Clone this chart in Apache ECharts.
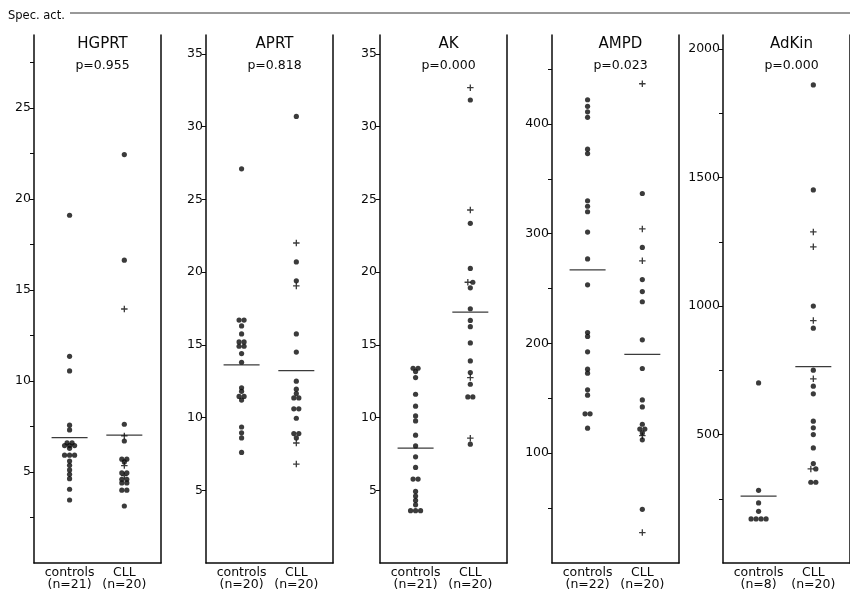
<!DOCTYPE html>
<html>
<head>
<meta charset="utf-8">
<script src="https://cdn.jsdelivr.net/npm/echarts@6/dist/echarts.min.js"></script>
<style>
  html, body { margin: 0; padding: 0; background: #fff; }
  #chart { width: 850px; height: 593px; }
</style>
</head>
<body>
<div id="chart"></div>
<script>
// Enzyme specific activities in controls and CLL, one panel per enzyme.
const enzymes = ['HGPRT', 'APRT', 'AK', 'AMPD', 'AdKin'];
const pValues = ['p=0.955', 'p=0.818', 'p=0.000', 'p=0.023', 'p=0.000'];
const groupNames = ['controls', 'CLL'];
const controlsN = [21, 20, 21, 22, 8];
const cllN = [20, 20, 20, 20, 20];

// y scale of each panel
const yMax = [29, 36.3, 36.3, 481, 2055];
const tickValues = [
  [2.5, 5, 7.5, 10, 12.5, 15, 17.5, 20, 22.5, 25, 27.5],
  [5, 10, 15, 20, 25, 30, 35],
  [5, 10, 15, 20, 25, 30, 35],
  [50, 100, 150, 200, 250, 300, 350, 400, 450],
  [250, 500, 750, 1000, 1250, 1500, 1750, 2000]
];
const labelValues = [
  [5, 10, 15, 20, 25],
  [5, 10, 15, 20, 25, 30, 35],
  [5, 10, 15, 20, 25, 30, 35],
  [100, 200, 300, 400],
  [500, 1000, 1500, 2000]
];

// individual values (equal values sit side by side)
const hgprtControlsDot = [19.1, 11.35, 10.55, 7.57, 7.31, 6.6, 6.6, 6.45, 6.45, 6.45, 6.3,
  5.92, 5.92, 5.92, 5.6, 5.37, 5.11, 4.87, 4.63, 4.05, 3.46];
const hgprtControlsPlus = [];
const hgprtCllDot = [22.43, 16.63, 7.62, 6.7, 5.7, 5.7, 5.55, 4.95, 4.95, 4.6, 4.6, 4.4, 4.4, 4.0, 4.0, 3.13];
const hgprtCllPlus = [13.95, 6.98, 5.35, 4.8];

const aprtControlsDot = [27.1, 16.7, 16.7, 16.3, 15.75, 15.2, 15.2, 14.9, 14.9, 14.4, 13.8,
  12.05, 11.8, 11.45, 11.45, 11.2, 9.35, 8.95, 8.6, 7.6];
const aprtControlsPlus = [];
const aprtCllDot = [30.7, 20.7, 19.4, 15.75, 14.5, 12.5, 11.95, 11.65, 11.35, 11.35, 10.6, 10.6,
  9.95, 8.9, 8.9, 8.6];
const aprtCllPlus = [22.0, 19.05, 8.25, 6.8];

const akControlsDot = [13.39, 13.39, 13.16, 12.75, 11.6, 10.78, 10.11, 9.77, 8.79, 8.05, 7.3, 6.57,
  5.77, 5.77, 4.92, 4.6, 4.3, 4.0, 3.6, 3.6, 3.6];
const akControlsPlus = [];
const akCllPlus = [32.68, 24.27, 19.3, 12.75, 8.58];
const akCllDot = [31.83, 23.35, 20.25, 19.3, 18.92, 17.48, 16.68, 16.25, 15.13, 13.89, 13.09,
  12.29, 11.42, 11.42, 8.17];

const ampdControlsDot = [422, 416, 411, 406, 377, 373, 330, 325, 320, 301.5, 277, 253.4,
  210, 206.4, 192.4, 176.6, 172.9, 157.8, 152.9, 135.9, 135.9, 122.8];
const ampdControlsPlus = [];
const ampdCllDot = [336.6, 287.5, 258.2, 247.3, 238, 203.3, 177.2, 148.6, 142.2,
  126.4, 122, 122, 118.5, 112.2, 48.9];
const ampdCllPlus = [436.6, 304.3, 275.3, 116, 27.7];

const adkinControlsDot = [701, 283, 234, 201, 171.4, 171.4, 171.4, 171.4];
const adkinControlsPlus = [];
const adkinCllDot = [1860.7, 1451.9, 1000, 913.8, 750.6, 688.3, 658.4, 551.9, 526, 500, 448, 387,
  366, 314.3, 314.3];
const adkinCllPlus = [1288.4, 1230.4, 943.5, 716.9, 366];

// group means
const controlsMean = [6.89, 13.62, 7.9, 267, 260];
const cllMean = [7.02, 13.23, 17.25, 190, 764];

const controlsDots = [hgprtControlsDot, aprtControlsDot, akControlsDot, ampdControlsDot, adkinControlsDot];
const controlsPlus = [hgprtControlsPlus, aprtControlsPlus, akControlsPlus, ampdControlsPlus, adkinControlsPlus];
const cllDots = [hgprtCllDot, aprtCllDot, akCllDot, ampdCllDot, adkinCllDot];
const cllPlus = [hgprtCllPlus, aprtCllPlus, akCllPlus, ampdCllPlus, adkinCllPlus];

// panel geometry
const panelLeft = [34, 206, 380, 552, 723];
const panelWidth = 127;
const gridTop = 35;
const gridHeight = 528;
const xMin = 0.35, xMax = 2.67;
const sideStep = 5 * (xMax - xMin) / panelWidth; // horizontal gap of coincident points

const ink = '#0a0a0a';
const fontFamily = '"DejaVu Sans", sans-serif';
const plusPath = 'path://M4,0h2v4h4v2h-4v4h-2v-4h-4v-2h4z';

// Place points at the group position; equal values are spread side by side.
function layoutGroup(center, dots, pluses) {
  const items = [];
  pluses.forEach(v => items.push({ v, kind: 'plus' }));
  dots.forEach(v => items.push({ v, kind: 'dot' }));
  const groups = new Map();
  items.forEach(it => {
    const key = it.v.toFixed(4);
    if (!groups.has(key)) groups.set(key, []);
    groups.get(key).push(it);
  });
  const dotOut = [], plusOut = [];
  groups.forEach(list => {
    const k = list.length;
    list.forEach((it, j) => {
      const x = center + (j - (k - 1) / 2) * sideStep;
      (it.kind === 'dot' ? dotOut : plusOut).push([x, it.v]);
    });
  });
  return { dotOut, plusOut };
}

const grids = [], xAxes = [], yAxes = [], series = [], titles = [];

titles.push({
  text: 'Spec. act.', left: 3, top: 5,
  textStyle: { fontFamily, fontSize: 11.5, fontWeight: 'normal', color: ink }
});

enzymes.forEach((name, i) => {
  grids.push({ left: panelLeft[i], top: gridTop, width: panelWidth, height: gridHeight });

  xAxes.push({
    type: 'value', gridIndex: i, min: xMin, max: xMax,
    axisLine: { show: true, onZero: false, lineStyle: { color: ink, width: 1.5 } },
    axisTick: { show: false },
    splitLine: { show: false },
    axisLabel: {
      customValues: [1, 2], margin: 4,
      fontFamily, fontSize: 12.5, lineHeight: 11.5, color: ink,
      formatter: v => v === 1 ? groupNames[0] + '\n(n=' + controlsN[i] + ')' : groupNames[1] + '\n(n=' + cllN[i] + ')'
    }
  });

  yAxes.push({
    type: 'value', gridIndex: i, min: 0, max: yMax[i], position: 'left',
    axisLine: { show: true, onZero: false, lineStyle: { color: ink, width: 1.5 } },
    axisTick: { show: true, customValues: tickValues[i], length: 4, lineStyle: { color: ink, width: 1 } },
    splitLine: { show: false },
    axisLabel: {
      customValues: labelValues[i], margin: 3,
      fontFamily, fontSize: 12.5, color: ink,
      formatter: v => String(v)
    }
  });
  // right border of the panel
  yAxes.push({
    type: 'value', gridIndex: i, min: 0, max: 1, position: 'right',
    axisLine: { show: true, onZero: false, lineStyle: { color: ink, width: 1.5 } },
    axisTick: { show: false }, axisLabel: { show: false }, splitLine: { show: false }
  });

  titles.push({
    text: name, subtext: pValues[i],
    left: panelLeft[i] + panelWidth / 2, top: 32, textAlign: 'center', itemGap: 7,
    textStyle: { fontFamily, fontSize: 15, fontWeight: 'normal', color: ink },
    subtextStyle: { fontFamily, fontSize: 12.5, color: ink }
  });

  const c = layoutGroup(1, controlsDots[i], controlsPlus[i]);
  const d = layoutGroup(2, cllDots[i], cllPlus[i]);

  series.push({
    type: 'scatter', xAxisIndex: i, yAxisIndex: 2 * i,
    symbol: 'circle', symbolSize: 5.2, silent: true,
    itemStyle: { color: ink },
    data: c.dotOut.concat(d.dotOut)
  });
  series.push({
    type: 'scatter', xAxisIndex: i, yAxisIndex: 2 * i,
    symbol: plusPath, symbolSize: 6.5, silent: true,
    itemStyle: { color: ink },
    data: c.plusOut.concat(d.plusOut)
  });
  series.push({
    type: 'scatter', xAxisIndex: i, yAxisIndex: 2 * i,
    symbol: 'rect', symbolSize: [36, 1.3], silent: true, z: 1,
    itemStyle: { color: ink },
    data: [[1, controlsMean[i]], [2, cllMean[i]]]
  });
});

const chart = echarts.init(document.getElementById('chart'), null, { renderer: 'canvas' });
chart.setOption({
  backgroundColor: '#fff',
  animation: false,
  title: titles,
  grid: grids,
  xAxis: xAxes,
  yAxis: yAxes,
  series,
  graphic: [{
    type: 'line', shape: { x1: 70, y1: 13, x2: 850, y2: 13 },
    style: { stroke: '#333', lineWidth: 1 }
  }]
});
</script>
</body>
</html>
